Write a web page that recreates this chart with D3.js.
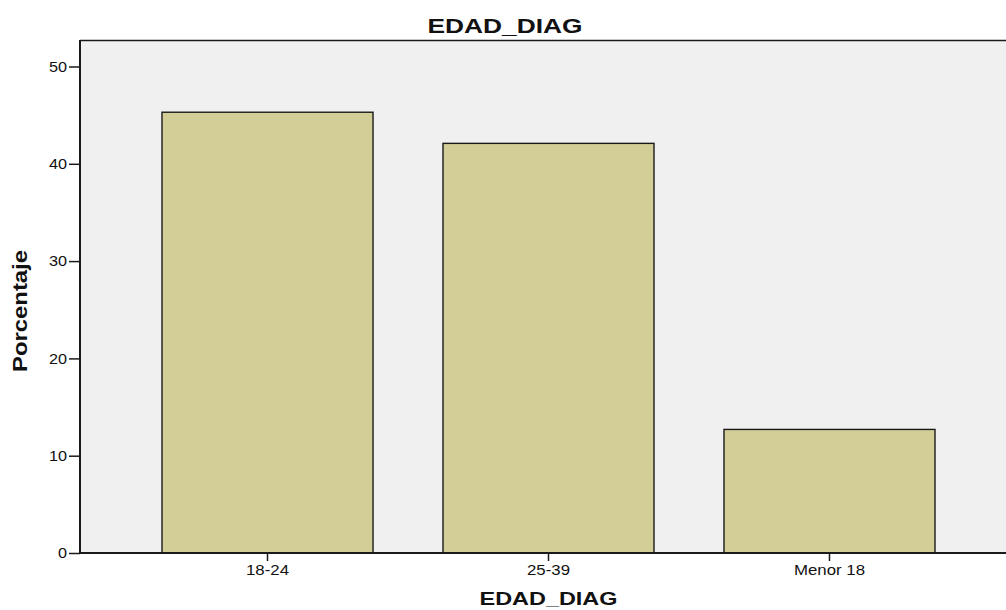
<!DOCTYPE html>
<html>
<head>
<meta charset="utf-8">
<script src="https://cdn.jsdelivr.net/npm/d3@7"></script>
<style>
  html, body { margin: 0; padding: 0; background: #ffffff; }
  svg { display: block; }
</style>
</head>
<body>
<svg id="chart" width="1006" height="610"></svg>
<script>
const categories = ["18-24", "25-39", "Menor 18"];
const percentages = [45.3, 42.1, 12.7];
const yTicks = [0, 10, 20, 30, 40, 50];
const chartTitle = "EDAD_DIAG";
const xTitle = "EDAD_DIAG";
const yTitle = "Porcentaje";

const svg = d3.select("#chart");
const plot = { left: 80, right: 1017, top: 40, bottom: 553 };
const FONT = "'Liberation Sans', Arial, sans-serif";

function stretch(sel, factor) {
  sel.each(function () {
    const w = this.getComputedTextLength();
    d3.select(this).attr("textLength", w * factor).attr("lengthAdjust", "spacingAndGlyphs");
  });
}

const x = d3.scaleBand()
  .domain(categories)
  .range([plot.left, plot.right])
  .paddingInner(0.249)
  .paddingOuter(0.2918);

const y = d3.scaleLinear()
  .domain([0, 50])
  .range([plot.bottom, 66.5]);

// plot background
svg.append("rect")
  .attr("x", plot.left)
  .attr("y", plot.top)
  .attr("width", plot.right - plot.left)
  .attr("height", plot.bottom - plot.top)
  .attr("fill", "#f0f0f0");

// top border
svg.append("line")
  .attr("x1", plot.left).attr("x2", plot.right)
  .attr("y1", plot.top + 0.5).attr("y2", plot.top + 0.5)
  .attr("stroke", "#1a1a1a").attr("stroke-width", 1.3);

// bars
svg.selectAll("rect.bar")
  .data(categories)
  .join("rect")
  .attr("class", "bar")
  .attr("x", d => x(d))
  .attr("y", (d, i) => y(percentages[i]))
  .attr("width", x.bandwidth())
  .attr("height", (d, i) => y(0) - y(percentages[i]))
  .attr("fill", "#d3ce98")
  .attr("stroke", "#1a1a1a")
  .attr("stroke-width", 1.4);

// y axis
const yAxis = svg.append("g")
  .attr("transform", `translate(${plot.left},0)`)
  .call(d3.axisLeft(y).tickValues(yTicks).tickSize(11).tickPadding(2).tickSizeOuter(0));
yAxis.select(".domain").remove();
yAxis.selectAll(".tick line").attr("stroke", "#1a1a1a").attr("stroke-width", 1.5);
yAxis.selectAll(".tick text")
  .attr("font-family", FONT)
  .attr("font-size", 14.5)
  .attr("fill", "#111")
  .call(stretch, 1.12);
svg.append("line")
  .attr("x1", plot.left).attr("x2", plot.left)
  .attr("y1", plot.top).attr("y2", plot.bottom)
  .attr("stroke", "#1a1a1a").attr("stroke-width", 2);

// x axis
const xAxis = svg.append("g")
  .attr("transform", `translate(0,${plot.bottom})`)
  .call(d3.axisBottom(x).tickSize(8).tickPadding(4).tickSizeOuter(0));
xAxis.select(".domain").remove();
xAxis.selectAll(".tick line").attr("stroke", "#1a1a1a").attr("stroke-width", 1.5);
xAxis.selectAll(".tick text")
  .attr("font-family", FONT)
  .attr("font-size", 14)
  .attr("fill", "#111")
  .call(stretch, 1.2);
svg.append("line")
  .attr("x1", plot.left).attr("x2", plot.right)
  .attr("y1", plot.bottom).attr("y2", plot.bottom)
  .attr("stroke", "#1a1a1a").attr("stroke-width", 2);

// titles
svg.append("text")
  .attr("x", 505).attr("y", 33)
  .attr("text-anchor", "middle")
  .attr("font-family", FONT)
  .attr("font-weight", "bold")
  .attr("font-size", 21)
  .attr("textLength", 155)
  .attr("lengthAdjust", "spacingAndGlyphs")
  .attr("fill", "#111")
  .text(chartTitle);

svg.append("text")
  .attr("x", (x(categories[1]) + x.bandwidth() / 2)).attr("y", 605)
  .attr("text-anchor", "middle")
  .attr("font-family", FONT)
  .attr("font-weight", "bold")
  .attr("font-size", 19)
  .attr("textLength", 138)
  .attr("lengthAdjust", "spacingAndGlyphs")
  .attr("fill", "#111")
  .text(xTitle);

svg.append("text")
  .attr("transform", "translate(27,311) rotate(-90)")
  .attr("text-anchor", "middle")
  .attr("font-family", FONT)
  .attr("font-weight", "bold")
  .attr("font-size", 20)
  .attr("textLength", 122)
  .attr("lengthAdjust", "spacingAndGlyphs")
  .attr("fill", "#111")
  .text(yTitle);
</script>
</body>
</html>
